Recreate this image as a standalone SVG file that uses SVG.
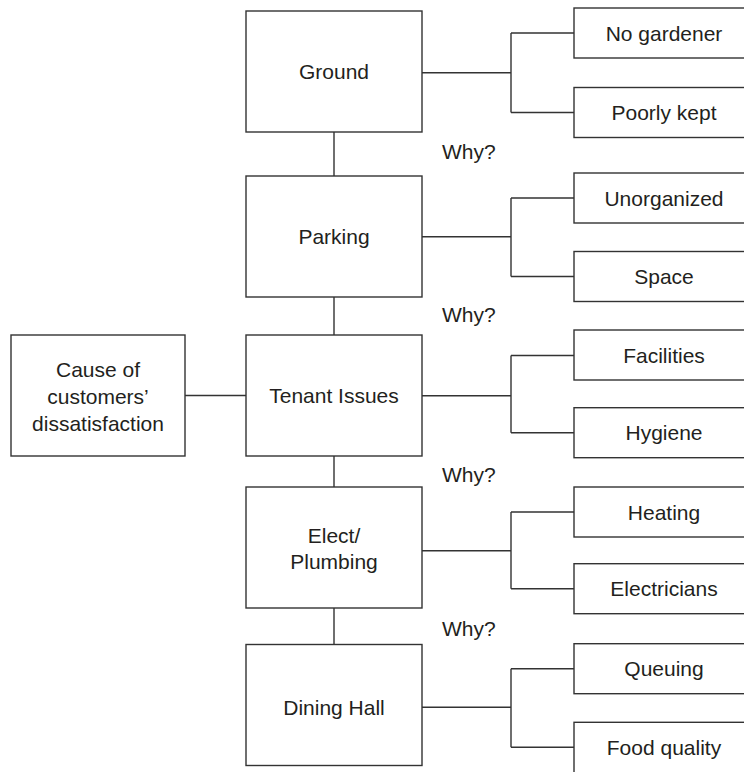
<svg xmlns="http://www.w3.org/2000/svg" width="744" height="772" viewBox="0 0 744 772">
<style>
.box{fill:#fff;stroke:#333;stroke-width:1.4}
.ln{fill:none;stroke:#333;stroke-width:1.4}
text{font-family:"Liberation Sans",Arial,sans-serif;font-size:21px;fill:#231f20;text-anchor:middle}
.why{text-anchor:start}
</style>
<rect width="744" height="772" fill="#fff"/>
<g id="connectors" class="ln">
<path d="M185 395.5H246"/>
<path d="M334 132V176M334 297V335M334 456V487M334 608V644.5"/>
<path d="M422 72.7H511M511 33V112.5M511 33H574M511 112.5H574"/>
<path d="M422 236.7H511M511 198V276.5M511 198H574M511 276.5H574"/>
<path d="M422 395.7H511M511 355.5V432.7M511 355.5H574M511 432.7H574"/>
<path d="M422 550.7H511M511 512V588.7M511 512H574M511 588.7H574"/>
<path d="M422 707.3H511M511 668.7V747.3M511 668.7H574M511 747.3H574"/>
</g>
<g id="cause"><rect class="box" x="11" y="335" width="174" height="121"/><text x="98" y="377.3">Cause of</text><text x="98" y="404">customers’</text><text x="98" y="430.7">dissatisfaction</text></g>
<g id="ground"><rect class="box" x="246" y="11" width="176" height="121"/><text x="334" y="79">Ground</text></g>
<g id="parking"><rect class="box" x="246" y="176" width="176" height="121"/><text x="334" y="243.5">Parking</text></g>
<g id="tenant"><rect class="box" x="246" y="335" width="176" height="121"/><text x="334" y="402.5">Tenant Issues</text></g>
<g id="elect"><rect class="box" x="246" y="487" width="176" height="121"/><text x="334" y="542.7">Elect/</text><text x="334" y="569.3">Plumbing</text></g>
<g id="dining"><rect class="box" x="246" y="644.5" width="176" height="121"/><text x="334" y="715">Dining Hall</text></g>
<g id="why-labels"><text class="why" x="442" y="159">Why?</text><text class="why" x="442" y="321.5">Why?</text><text class="why" x="442" y="481.5">Why?</text><text class="why" x="442" y="636">Why?</text></g>
<g id="no-gardener"><rect class="box" x="574" y="8" width="200" height="50"/><text x="664" y="40.7">No gardener</text></g>
<g id="poorly-kept"><rect class="box" x="574" y="87.5" width="200" height="50"/><text x="664" y="120">Poorly kept</text></g>
<g id="unorganized"><rect class="box" x="574" y="173" width="200" height="50"/><text x="664" y="205.5">Unorganized</text></g>
<g id="space"><rect class="box" x="574" y="251.5" width="200" height="50"/><text x="664" y="284">Space</text></g>
<g id="facilities"><rect class="box" x="574" y="330" width="200" height="50"/><text x="664" y="362.5">Facilities</text></g>
<g id="hygiene"><rect class="box" x="574" y="407.7" width="200" height="50"/><text x="664" y="440.2">Hygiene</text></g>
<g id="heating"><rect class="box" x="574" y="487" width="200" height="50"/><text x="664" y="519.5">Heating</text></g>
<g id="electricians"><rect class="box" x="574" y="563.7" width="200" height="50"/><text x="664" y="596.2">Electricians</text></g>
<g id="queuing"><rect class="box" x="574" y="643.7" width="200" height="50"/><text x="664" y="676.2">Queuing</text></g>
<g id="food-quality"><rect class="box" x="574" y="722.3" width="200" height="60"/><text x="664" y="754.8">Food quality</text></g>
</svg>
